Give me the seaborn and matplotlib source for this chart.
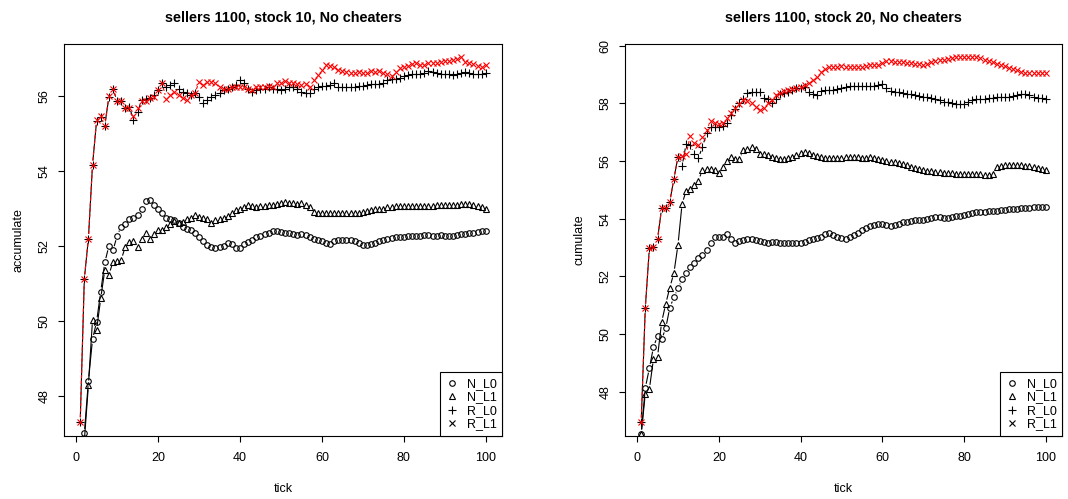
import numpy as np
import pandas as pd
import matplotlib
matplotlib.use("Agg")
import matplotlib.pyplot as plt
import seaborn as sns
from matplotlib.collections import LineCollection
from matplotlib.lines import Line2D

ticks = list(range(1, 101))

# stock 10 panel
s10_N_L0 = [46.5, 47.0, 48.4, 49.51, 49.98, 50.78, 51.56, 52.0, 51.88, 52.27,
            52.52, 52.58, 52.71, 52.74, 52.83, 53.0, 53.21, 53.23, 53.09, 52.99,
            52.87, 52.76, 52.72, 52.69, 52.62, 52.52, 52.45, 52.42, 52.34, 52.25,
            52.12, 52.02, 51.98, 51.95, 51.96, 52.01, 52.08, 52.04, 51.94, 51.95,
            52.04, 52.10, 52.16, 52.23, 52.28, 52.33, 52.36, 52.40, 52.41, 52.38,
            52.36, 52.36, 52.32, 52.30, 52.33, 52.29, 52.25, 52.20, 52.17, 52.12,
            52.08, 52.05, 52.12, 52.15, 52.16, 52.15, 52.15, 52.12, 52.08, 52.03,
            52.03, 52.04, 52.08, 52.13, 52.17, 52.20, 52.22, 52.23, 52.24, 52.25,
            52.26, 52.27, 52.27, 52.28, 52.30, 52.30, 52.28, 52.28, 52.30, 52.28,
            52.26, 52.26, 52.30, 52.32, 52.33, 52.34, 52.35, 52.37, 52.39, 52.39]
s10_N_L1 = [46.5, 46.8, 48.29, 50.03, 49.76, 50.6, 51.36, 51.23, 51.58, 51.6,
            51.63, 51.98, 52.1, 52.14, 51.98, 52.18, 52.34, 52.18, 52.32, 52.44,
            52.44, 52.52, 52.6, 52.68, 52.62, 52.65, 52.71, 52.76, 52.83, 52.78,
            52.74, 52.71, 52.62, 52.69, 52.71, 52.74, 52.8, 52.89, 52.96, 53.0,
            53.05, 53.09, 53.07, 53.05, 53.07, 53.07, 53.09, 53.09, 53.12, 53.14,
            53.18, 53.16, 53.14, 53.12, 53.14, 53.09, 53.05, 52.92, 52.89, 52.89,
            52.89, 52.89, 52.89, 52.89, 52.89, 52.89, 52.87, 52.87, 52.89, 52.92,
            52.94, 52.96, 52.98, 53.0, 53.0, 53.03, 53.05, 53.07, 53.07, 53.07,
            53.07, 53.07, 53.07, 53.07, 53.08, 53.08, 53.08, 53.09, 53.09, 53.09,
            53.09, 53.09, 53.09, 53.12, 53.12, 53.12, 53.09, 53.07, 53.05, 53.0]
s10_R_L0 = [47.31, 51.12, 52.20, 54.16, 55.34, 55.45, 55.21, 55.98, 56.19, 55.87,
            55.87, 55.67, 55.72, 55.36, 55.58, 55.89, 55.92, 55.96, 56.03, 56.16,
            56.34, 56.25, 56.29, 56.36, 56.20, 56.12, 56.07, 56.03, 56.07, 55.98,
            55.82, 55.89, 55.98, 56.03, 56.09, 56.16, 56.20, 56.25, 56.29, 56.43,
            56.34, 56.20, 56.12, 56.16, 56.18, 56.20, 56.23, 56.20, 56.18, 56.16,
            56.20, 56.23, 56.23, 56.18, 56.12, 56.07, 56.07, 56.20, 56.25, 56.27,
            56.27, 56.29, 56.36, 56.25, 56.23, 56.23, 56.23, 56.25, 56.27, 56.27,
            56.29, 56.31, 56.31, 56.32, 56.34, 56.43, 56.45, 56.45, 56.49, 56.53,
            56.56, 56.58, 56.58, 56.60, 56.62, 56.67, 56.65, 56.62, 56.60, 56.58,
            56.58, 56.56, 56.58, 56.62, 56.65, 56.62, 56.58, 56.60, 56.60, 56.62]
s10_R_L1 = [47.31, 51.12, 52.20, 54.16, 55.36, 55.47, 55.21, 56.00, 56.20, 55.87,
            55.87, 55.67, 55.69, 55.47, 55.67, 55.87, 55.88, 55.94, 55.98, 56.16,
            56.34, 55.92, 56.03, 56.12, 56.03, 55.94, 55.89, 56.03, 56.07, 56.38,
            56.29, 56.38, 56.38, 56.34, 56.25, 56.20, 56.20, 56.25, 56.25, 56.23,
            56.25, 56.20, 56.16, 56.23, 56.25, 56.23, 56.27, 56.25, 56.34, 56.36,
            56.41, 56.34, 56.34, 56.31, 56.29, 56.32, 56.25, 56.44, 56.56, 56.69,
            56.83, 56.80, 56.78, 56.69, 56.67, 56.65, 56.62, 56.62, 56.65, 56.62,
            56.62, 56.67, 56.65, 56.67, 56.62, 56.58, 56.53, 56.65, 56.74, 56.78,
            56.80, 56.85, 56.87, 56.83, 56.83, 56.87, 56.87, 56.89, 56.92, 56.94,
            56.94, 56.96, 57.00, 57.05, 56.92, 56.89, 56.85, 56.80, 56.78, 56.83]

# stock 20 panel
s20_N_L0 = [46.53, 48.12, 48.81, 49.54, 49.93, 49.81, 50.20, 50.91, 51.27, 51.58,
            51.89, 52.13, 52.31, 52.45, 52.62, 52.74, 52.91, 53.14, 53.38, 53.38,
            53.35, 53.47, 53.28, 53.14, 53.22, 53.26, 53.30, 53.28, 53.26, 53.24,
            53.19, 53.17, 53.20, 53.20, 53.17, 53.14, 53.14, 53.14, 53.17, 53.14,
            53.20, 53.26, 53.28, 53.32, 53.38, 53.47, 53.49, 53.43, 53.36, 53.32,
            53.30, 53.36, 53.45, 53.50, 53.60, 53.67, 53.75, 53.78, 53.80, 53.80,
            53.78, 53.76, 53.78, 53.83, 53.87, 53.90, 53.93, 53.94, 53.95, 53.96,
            53.98, 54.03, 54.06, 54.06, 54.02, 54.04, 54.07, 54.08, 54.10, 54.14,
            54.17, 54.20, 54.22, 54.24, 54.24, 54.25, 54.27, 54.28, 54.29, 54.30,
            54.32, 54.33, 54.35, 54.36, 54.37, 54.38, 54.39, 54.40, 54.42, 54.39]
s20_N_L1 = [46.53, 47.92, 48.08, 49.13, 49.21, 50.41, 51.04, 51.61, 52.11, 53.09,
            54.51, 54.97, 55.02, 55.17, 55.32, 55.69, 55.71, 55.71, 55.69, 55.60,
            55.80, 56.01, 56.13, 56.06, 56.06, 56.37, 56.43, 56.49, 56.40, 56.26,
            56.24, 56.20, 56.15, 56.10, 56.08, 56.07, 56.10, 56.15, 56.22, 56.27,
            56.30, 56.28, 56.22, 56.18, 56.15, 56.12, 56.10, 56.12, 56.10, 56.10,
            56.13, 56.14, 56.15, 56.13, 56.11, 56.09, 56.15, 56.09, 56.06, 56.04,
            56.00, 55.98, 55.95, 55.92, 55.90, 55.85, 55.80, 55.75, 55.71, 55.68,
            55.65, 55.64, 55.62, 55.61, 55.60, 55.58, 55.57, 55.56, 55.55, 55.55,
            55.55, 55.55, 55.55, 55.54, 55.53, 55.52, 55.56, 55.80, 55.84, 55.86,
            55.86, 55.86, 55.86, 55.85, 55.83, 55.82, 55.80, 55.77, 55.73, 55.68]
s20_R_L0 = [46.94, 50.89, 52.97, 53.03, 53.29, 54.36, 54.36, 54.59, 55.38, 56.15,
            55.83, 56.59, 56.55, 56.25, 56.10, 56.50, 56.96, 57.17, 57.17, 57.17,
            57.20, 57.31, 57.60, 57.80, 58.00, 58.14, 58.35, 58.40, 58.40, 58.40,
            58.20, 58.14, 58.00, 58.15, 58.32, 58.36, 58.38, 58.45, 58.52, 58.55,
            58.58, 58.38, 58.32, 58.30, 58.42, 58.45, 58.45, 58.48, 58.50, 58.52,
            58.58, 58.60, 58.62, 58.62, 58.62, 58.62, 58.62, 58.62, 58.64, 58.67,
            58.55, 58.44, 58.41, 58.38, 58.35, 58.33, 58.31, 58.28, 58.26, 58.23,
            58.21, 58.18, 58.14, 58.10, 58.06, 58.04, 58.03, 57.99, 57.98, 57.98,
            58.05, 58.12, 58.14, 58.15, 58.15, 58.17, 58.19, 58.21, 58.21, 58.21,
            58.22, 58.26, 58.29, 58.31, 58.32, 58.28, 58.23, 58.19, 58.17, 58.15]
s20_R_L1 = [46.94, 50.89, 52.97, 53.03, 53.29, 54.36, 54.36, 54.59, 55.38, 56.15,
            56.17, 56.24, 56.87, 56.64, 56.55, 56.84, 57.08, 57.40, 57.31, 57.28,
            57.31, 57.51, 57.65, 57.83, 57.98, 58.12, 58.09, 58.02, 57.86, 57.77,
            57.83, 58.00, 58.12, 58.29, 58.37, 58.44, 58.46, 58.49, 58.52, 58.58,
            58.64, 58.72, 58.81, 58.92, 59.10, 59.21, 59.27, 59.27, 59.25, 59.29,
            59.25, 59.27, 59.27, 59.25, 59.27, 59.29, 59.32, 59.32, 59.34, 59.41,
            59.48, 59.46, 59.45, 59.43, 59.42, 59.41, 59.40, 59.38, 59.35, 59.33,
            59.38, 59.44, 59.48, 59.50, 59.51, 59.53, 59.56, 59.60, 59.61, 59.62,
            59.62, 59.62, 59.61, 59.58, 59.50, 59.46, 59.42, 59.36, 59.33, 59.28,
            59.24, 59.20, 59.15, 59.10, 59.05, 59.04, 59.06, 59.06, 59.06, 59.07]

series_names = ["N_L0", "N_L1", "R_L0", "R_L1"]
x_ticks = [0, 20, 40, 60, 80, 100]

panels = [
    dict(title="sellers 1100, stock 10, No cheaters", ylabel="accumulate",
         ylim=(46.93, 57.39), yticks=[48, 50, 52, 54, 56],
         data=[s10_N_L0, s10_N_L1, s10_R_L0, s10_R_L1]),
    dict(title="sellers 1100, stock 20, No cheaters", ylabel="cumulate",
         ylim=(46.46, 60.06), yticks=[48, 50, 52, 54, 56, 58, 60],
         data=[s20_N_L0, s20_N_L1, s20_R_L0, s20_R_L1]),
]

# marker, size, colour, line style (R type="b" look)
style = {
    "N_L0": dict(marker="o", ms=4.0, color="black", ls="-"),
    "N_L1": dict(marker="^", ms=4.8, color="black", ls="-"),
    "R_L0": dict(marker="+", ms=5.4, color="black", ls="-"),
    "R_L1": dict(marker="x", ms=4.4, color="#ff0000", ls=(0, (3, 2))),
}


def gapped_segments(ax, x, y, gap):
    # segments between points, cut short near each point (pixels)
    pts = ax.transData.transform(np.column_stack([x, y]))
    inv = ax.transData.inverted()
    segs = []
    for p0, p1 in zip(pts[:-1], pts[1:]):
        d = p1 - p0
        dist = np.hypot(d[0], d[1])
        if dist <= 2 * gap:
            continue
        u = d / dist
        segs.append(inv.transform([p0 + u * gap, p1 - u * gap]))
    return segs


sns.set_theme(style="ticks")
plt.rcParams["font.family"] = ["Liberation Sans", "DejaVu Sans"]
plt.rcParams["text.color"] = "black"
plt.rcParams["axes.labelcolor"] = "black"

fig = plt.figure(figsize=(10.68, 4.99), dpi=100)
ax_l = fig.add_axes([64 / 1068, 63 / 499, 438 / 1068, 392 / 499])
ax_r = fig.add_axes([625 / 1068, 63 / 499, 437 / 1068, 392 / 499])

for ax, p in zip([ax_l, ax_r], panels):
    ax.set_xlim(-2.96, 103.96)
    ax.set_ylim(*p["ylim"])
    for name, vals in zip(series_names, p["data"]):
        st = style[name]
        segs = gapped_segments(ax, ticks, vals, 4.5)
        ax.add_collection(LineCollection(segs, colors=st["color"], linewidths=0.8,
                                         linestyles=[st["ls"]], zorder=1.5))
        df = pd.DataFrame({"tick": ticks, "value": vals})
        sns.lineplot(data=df, x="tick", y="value", ax=ax, estimator=None,
                     marker=st["marker"], markersize=st["ms"], linestyle="none",
                     color=st["color"], markeredgecolor=st["color"],
                     markerfacecolor="none", markeredgewidth=0.8, zorder=2)
    ax.set_xlim(-2.96, 103.96)
    ax.set_ylim(*p["ylim"])
    ax.set_xticks(x_ticks)
    ax.set_yticks(p["yticks"])
    ax.set_title(p["title"], fontsize=10.4, fontweight="bold", pad=16, color="black")
    ax.set_xlabel("tick", fontsize=9, labelpad=14, color="black")
    ax.set_ylabel(p["ylabel"], fontsize=9, labelpad=10, color="black")
    ax.tick_params(direction="out", length=4.5, width=0.8, colors="black",
                   labelsize=9, pad=7)
    ax.tick_params(axis="y", labelrotation=90, pad=5)
    for lab in ax.get_yticklabels():
        lab.set_va("center")
    for s in ax.spines.values():
        s.set_visible(True)
        s.set_color("black")
        s.set_linewidth(0.8)
    ax.grid(False)

    handles = [Line2D([], [], marker=style[n]["marker"], markersize=style[n]["ms"],
                      color="black", markerfacecolor="none", linestyle="none",
                      markeredgewidth=0.8) for n in series_names]
    leg = ax.legend(handles, series_names, loc="lower right", borderaxespad=0,
                    frameon=True, fancybox=False, edgecolor="black", framealpha=1,
                    fontsize=9, handlelength=1.0, handletextpad=0.7,
                    borderpad=0.45, labelspacing=0.12)
    leg.get_frame().set_linewidth(0.8)
    for t in leg.get_texts():
        t.set_color("black")

fig.savefig("out.png", dpi=100)
